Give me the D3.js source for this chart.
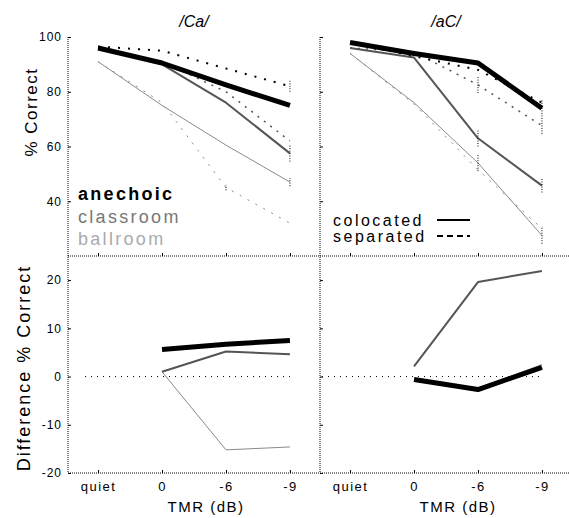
<!DOCTYPE html>
<html>
<head>
<meta charset="utf-8">
<script src="https://cdn.jsdelivr.net/npm/d3@7"></script>
<style>
  html, body { margin: 0; padding: 0; background: #fff; }
  svg { display: block; font-family: "Liberation Sans", Arial, sans-serif; }
</style>
</head>
<body>
<div id="chart"></div>
<script>
// x categories (TMR)
var conditions = ["quiet", "0", "-6", "-9"];
var diffConditions = ["0", "-6", "-9"];
var panelTitles = ["/Ca/", "/aC/"];

// /Ca/ percent correct
var caAnechoicColocated = [96, 90.5, 82.5, 75];
var caAnechoicSeparated = [96.5, 95, 88.5, 82];
var caClassroomColocated = [96, 90, 76, 57.5];
var caClassroomSeparated = [96, 91, 80, 62];
var caBallroomColocated = [91, 75, 60.5, 47];
var caBallroomSeparated = [91, 76, 45, 32];

// /aC/ percent correct
var acAnechoicColocated = [98, 94, 90.5, 74];
var acAnechoicSeparated = [98, 93, 88, 76];
var acClassroomColocated = [96, 92.5, 63, 45.7];
var acClassroomSeparated = [96, 94.5, 82.5, 67.6];
var acBallroomColocated = [94, 76, 54, 27.5];
var acBallroomSeparated = [94, 75.5, 51.5, 30];

// error bar half-widths (only the visible ones)
var caAnechoicSeparatedErr = [0, 0, 0, 2];
var caClassroomColocatedErr = [0, 0, 0, 3];
var caBallroomColocatedErr = [0, 0, 0, 1.5];
var caBallroomSeparatedErr = [0, 0, 1, 0];
var acAnechoicColocatedErr = [0, 0, 0, 3];
var acClassroomSeparatedErr = [0, 0, 3, 3];
var acClassroomColocatedErr = [0, 0, 3, 2.5];
var acBallroomColocatedErr = [0, 0, 3, 3];

// difference (separated - colocated)
var caAnechoicDiff = [5.6, 6.7, 7.5];
var caClassroomDiff = [1.0, 5.2, 4.6];
var caBallroomDiff = [1.0, -15.2, -14.6];
var acAnechoicDiff = [-0.6, -2.7, 1.9];
var acClassroomDiff = [2.1, 19.6, 21.9];
var acBallroomDiff = [-0.5, -2.5, 2.5];

var topTicks = [40, 60, 80, 100];
var bottomTicks = [-20, -10, 0, 10, 20];

var width = 569, height = 518;
var font = "'Liberation Sans', Arial, sans-serif";

var svg = d3.select("#chart").append("svg")
  .attr("width", width)
  .attr("height", height);

var yTop = d3.scaleLinear().domain([20, 100]).range([256, 37]);
var yBot = d3.scaleLinear().domain([-20, 25]).range([473, 256]);

var panels = [
  { x0: 68, x1: 320, title: panelTitles[0],
    series: [
      { v: caBallroomSeparated, e: caBallroomSeparatedErr, color: "#8a8a8a", w: 1, dash: "2,7" },
      { v: caBallroomColocated, e: caBallroomColocatedErr, color: "#8a8a8a", w: 1, dash: null },
      { v: caClassroomSeparated, e: null, color: "#555", w: 1.5, dash: "2,6" },
      { v: caClassroomColocated, e: caClassroomColocatedErr, color: "#555", w: 2, dash: null },
      { v: caAnechoicSeparated, e: caAnechoicSeparatedErr, color: "#000", w: 2, dash: "2,8" },
      { v: caAnechoicColocated, e: null, color: "#000", w: 5, dash: null }
    ],
    diffs: [
      { v: caBallroomDiff, color: "#8a8a8a", w: 1 },
      { v: caClassroomDiff, color: "#555", w: 2 },
      { v: caAnechoicDiff, color: "#000", w: 5 }
    ]
  },
  { x0: 320, x1: 572, title: panelTitles[1],
    series: [
      { v: acBallroomSeparated, e: null, color: "#8a8a8a", w: 1, dash: "2,7" },
      { v: acBallroomColocated, e: acBallroomColocatedErr, color: "#8a8a8a", w: 1, dash: null },
      { v: acClassroomSeparated, e: acClassroomSeparatedErr, color: "#555", w: 1.5, dash: "2,6" },
      { v: acClassroomColocated, e: acClassroomColocatedErr, color: "#555", w: 2, dash: null },
      { v: acAnechoicSeparated, e: null, color: "#000", w: 2, dash: "2,8" },
      { v: acAnechoicColocated, e: acAnechoicColocatedErr, color: "#000", w: 5, dash: null }
    ],
    diffs: [
      { v: acBallroomDiff, color: "#8a8a8a", w: 1 },
      { v: acClassroomDiff, color: "#555", w: 2 },
      { v: acAnechoicDiff, color: "#000", w: 5 }
    ]
  }
];

var hyphenFormat = function(d) { return String(d); };

panels.forEach(function(p, pi) {
  var x = d3.scalePoint().domain(conditions).range([p.x0, p.x1]).padding(0.47);
  var g = svg.append("g");

  // zero line in difference panel
  g.append("line")
    .attr("x1", pi == 0 ? p.x0 + 17 : p.x0 + 2)
    .attr("x2", x("-9"))
    .attr("y1", yBot(0)).attr("y2", yBot(0))
    .attr("stroke", "#000").attr("stroke-dasharray", "1,5");

  // frame lines (dotted)
  g.append("line")
    .attr("x1", p.x0).attr("x2", p.x0)
    .attr("y1", yTop(100)).attr("y2", yBot(-20))
    .attr("stroke", "#000").attr("stroke-dasharray", "1,1");
  [256, 473].forEach(function(yy) {
    g.append("line")
      .attr("x1", p.x0).attr("x2", Math.min(p.x1, width))
      .attr("y1", yy).attr("y2", yy)
      .attr("stroke", "#000").attr("stroke-dasharray", "1,1");
  });

  // y ticks
  var yAxTop = g.append("g").attr("transform", "translate(" + p.x0 + ",0)")
    .call(d3.axisLeft(yTop).tickValues(topTicks).tickSizeInner(-3).tickSizeOuter(0).tickPadding(6)
      .tickFormat(pi == 0 ? hyphenFormat : ""));
  var yAxBot = g.append("g").attr("transform", "translate(" + p.x0 + ",0)")
    .call(d3.axisLeft(yBot).tickValues(bottomTicks).tickSizeInner(-3).tickSizeOuter(0).tickPadding(6)
      .tickFormat(pi == 0 ? hyphenFormat : ""));
  [yAxTop, yAxBot].forEach(function(a) {
    a.select(".domain").remove();
    a.selectAll("text").style("font-family", font).style("font-size", "12px").style("letter-spacing", "1px");
  });

  // x ticks
  var xAx = g.append("g").attr("transform", "translate(0,473)")
    .call(d3.axisBottom(x).tickSizeInner(-3).tickSizeOuter(0).tickPadding(9));
  xAx.select(".domain").remove();
  xAx.selectAll("text").style("font-family", font).style("font-size", "13px").style("letter-spacing", "1.5px");
  var xAxMid = g.append("g").attr("transform", "translate(0,256)")
    .call(d3.axisBottom(x).tickSizeInner(-3).tickSizeOuter(0).tickFormat(""));
  xAxMid.select(".domain").remove();

  g.append("text")
    .attr("x", (p.x0 + p.x1) / 2 + 12).attr("y", 512)
    .attr("text-anchor", "middle")
    .style("font-family", font).style("font-size", "15px").style("letter-spacing", "1.5px")
    .text("TMR (dB)");

  // panel title
  g.append("text")
    .attr("x", (p.x0 + p.x1) / 2).attr("y", 27)
    .attr("text-anchor", "middle")
    .style("font-family", font).style("font-size", "16px").style("font-style", "italic")
    .text(p.title);

  // percent correct lines
  var line = d3.line()
    .x(function(d, i) { return x(conditions[i]); })
    .y(function(d) { return yTop(d); });
  p.series.forEach(function(s) {
    g.append("path")
      .datum(s.v)
      .attr("d", line)
      .attr("fill", "none")
      .attr("stroke", s.color)
      .attr("stroke-width", s.w)
      .attr("stroke-dasharray", s.dash)
      .attr("stroke-linejoin", "round");
    if (s.e) {
      s.v.forEach(function(v, i) {
        if (!s.e[i]) return;
        g.append("line")
          .attr("x1", x(conditions[i])).attr("x2", x(conditions[i]))
          .attr("y1", yTop(v - s.e[i])).attr("y2", yTop(v + s.e[i]))
          .attr("stroke", "#000").attr("stroke-width", 1)
          .attr("stroke-dasharray", "1,1.5");
      });
    }
  });

  // difference lines
  var dline = d3.line()
    .x(function(d, i) { return x(diffConditions[i]); })
    .y(function(d) { return yBot(d); });
  p.diffs.forEach(function(s) {
    g.append("path")
      .datum(s.v)
      .attr("d", dline)
      .attr("fill", "none")
      .attr("stroke", s.color)
      .attr("stroke-width", s.w)
      .attr("stroke-linejoin", "round");
  });
});

// y axis titles
svg.append("text")
  .attr("transform", "translate(37,112) rotate(-90)")
  .attr("text-anchor", "middle")
  .style("font-family", font).style("font-size", "17px").style("letter-spacing", "1.5px")
  .text("% Correct");
svg.append("text")
  .attr("transform", "translate(30,368) rotate(-90)")
  .attr("text-anchor", "middle")
  .style("font-family", font).style("font-size", "18px").style("letter-spacing", "2px")
  .text("Difference  % Correct");

// room legend
var roomLegend = [
  { name: "anechoic", color: "#000", weight: "bold" },
  { name: "classroom", color: "#777", weight: "normal" },
  { name: "ballroom", color: "#aaa", weight: "normal" }
];
roomLegend.forEach(function(r, i) {
  svg.append("text")
    .attr("x", 78).attr("y", 200 + i * 22.5)
    .style("font-family", font).style("font-size", "18px")
    .style("font-weight", r.weight).style("letter-spacing", "2.3px")
    .attr("fill", r.color)
    .text(r.name);
});

// location legend
var locLegend = [
  { name: "colocated", dash: null },
  { name: "separated", dash: "6,4" }
];
locLegend.forEach(function(r, i) {
  svg.append("text")
    .attr("x", 333).attr("y", 226 + i * 16)
    .style("font-family", font).style("font-size", "16px").style("letter-spacing", "2.5px")
    .text(r.name);
  svg.append("line")
    .attr("x1", 437).attr("x2", 470)
    .attr("y1", 220 + i * 16).attr("y2", 220 + i * 16)
    .attr("stroke", "#000").attr("stroke-width", 2)
    .attr("stroke-dasharray", r.dash);
});
</script>
</body>
</html>
